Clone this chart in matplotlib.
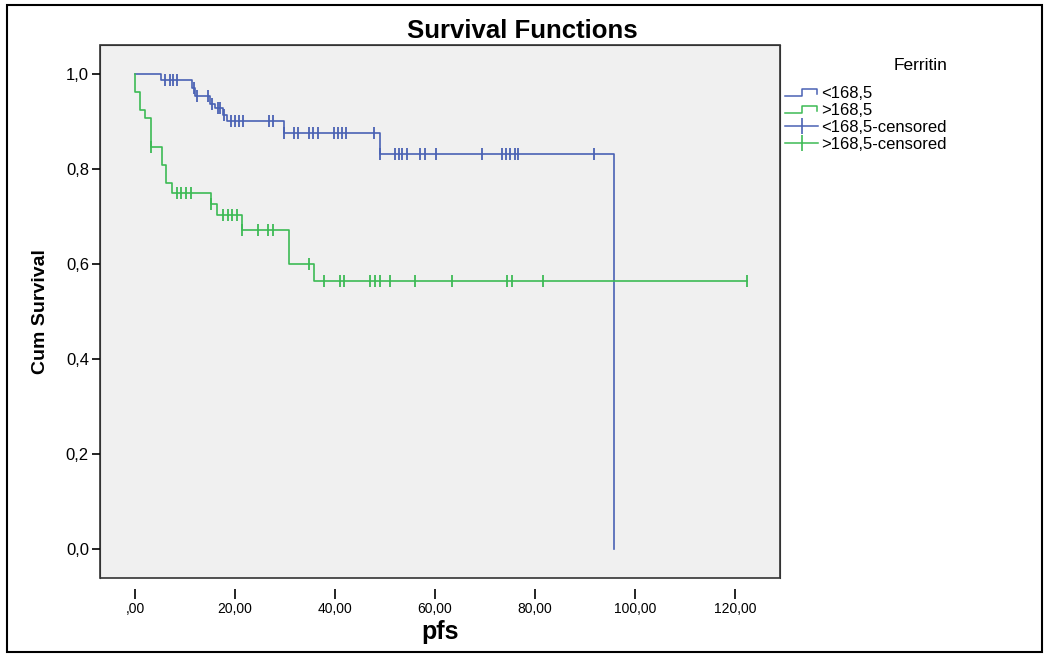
import numpy as np
import matplotlib.pyplot as plt
from matplotlib.lines import Line2D
from matplotlib.patches import Rectangle
from matplotlib.legend_handler import HandlerBase

plt.rcParams['font.family'] = ['Liberation Sans', 'DejaVu Sans']

# Kaplan-Meier steps (time, cum survival after the step)
blue_t = [0, 5.2, 11.3, 12.0, 15.0, 16.0, 17.5, 18.3, 29.7, 48.9, 95.8]
blue_s = [1.0, 0.987, 0.971, 0.954, 0.936, 0.928, 0.914, 0.900, 0.876, 0.831, 0.0]
blue_cens = [6.0, 6.9, 7.5, 8.3, 11.8, 12.3, 14.5, 15.3, 16.5, 17.0, 17.8, 19.2,
             20.0, 20.8, 21.6, 26.7, 27.5, 29.7, 31.7, 32.5, 34.7, 35.5, 36.5,
             39.7, 40.5, 41.3, 42.2, 47.7, 48.9, 52.0, 52.7, 53.3, 54.3, 57.0,
             58.0, 60.2, 69.3, 73.3, 74.2, 75.0, 75.9, 76.5, 91.7]

green_t = [0, 0, 1.0, 2.0, 3.2, 5.3, 6.2, 7.3, 15.2, 16.3, 21.3, 30.7, 35.7]
green_s = [1.0, 0.963, 0.924, 0.907, 0.847, 0.808, 0.770, 0.749, 0.726, 0.703,
           0.672, 0.601, 0.564]
green_cens = [3.2, 8.3, 9.1, 10.1, 11.1, 15.2, 17.5, 18.5, 19.4, 20.3, 21.3,
              24.5, 26.5, 27.5, 34.7, 37.7, 40.9, 41.8, 46.9, 48.0, 49.0, 51.0,
              56.0, 63.3, 74.4, 75.4, 81.6, 122.3]

labels = ['<168,5', '>168,5', '<168,5-censored', '>168,5-censored']
xticks = [0, 20, 40, 60, 80, 100, 120]
xtick_labels = [',00', '20,00', '40,00', '60,00', '80,00', '100,00', '120,00']
yticks = [0.0, 0.2, 0.4, 0.6, 0.8, 1.0]
ytick_labels = ['0,0', '0,2', '0,4', '0,6', '0,8', '1,0']

BLUE = '#4a62b4'
GREEN = '#3dba55'


def surv_at(times, surv, c):
    i = np.searchsorted(times, c, side='right') - 1
    return np.array(surv)[i]


class StepHandler(HandlerBase):
    def create_artists(self, legend, orig_handle, xdescent, ydescent,
                       width, height, fontsize, trans):
        x0, y0 = -xdescent, -ydescent
        xs = [x0, x0 + width * 0.5, x0 + width * 0.5, x0 + width * 0.95, x0 + width * 0.95]
        ys = [y0 + height * 0.15, y0 + height * 0.15, y0 + height * 0.8,
              y0 + height * 0.8, y0 + height * 0.35]
        ln = Line2D(xs, ys, color=orig_handle.get_color(), lw=1.1)
        ln.set_transform(trans)
        return [ln]


fig = plt.figure(figsize=(10.5, 6.57), dpi=100)
ax = fig.add_axes([100 / 1050, 1 - 578 / 657, 680 / 1050, 533 / 657])
ax.set_facecolor('#f0f0f0')

# blue group
ax.step(blue_t, blue_s, where='post', color=BLUE, lw=1.2)
ax.plot(blue_cens, surv_at(blue_t, blue_s, blue_cens), ls='none',
        marker='|', ms=8, mew=1.3, color=BLUE)

# green group, extended to the last censored case
gt = green_t + [green_cens[-1]]
gs = green_s + [green_s[-1]]
ax.step(gt, gs, where='post', color=GREEN, lw=1.2)
ax.plot(green_cens, surv_at(green_t, green_s, green_cens), ls='none',
        marker='|', ms=8, mew=1.3, color=GREEN)

ax.set_xlim(-7, 129)
ax.set_ylim(-0.061, 1.061)
ax.set_xticks(xticks)
ax.set_xticklabels(xtick_labels, fontsize=12)
ax.set_yticks(yticks)
ax.set_yticklabels(ytick_labels, fontsize=12)
ax.tick_params(axis='y', direction='out', length=6, width=1.2, pad=2)
ax.tick_params(axis='x', direction='out', length=7, width=1.2, pad=2)

ax.spines['bottom'].set_position(('outward', 8))
ax.spines['bottom'].set_visible(False)
for s in ['top', 'right', 'left']:
    ax.spines[s].set_color('#333333')
ax.add_patch(Rectangle((0, 0), 1, 1, transform=ax.transAxes, fill=False,
                       edgecolor='#333333', lw=1.2, clip_on=False))

ax.set_xlabel('pfs', fontsize=18, fontweight='bold', labelpad=3)
ax.set_ylabel('Cum Survival', fontsize=14, fontweight='bold', labelpad=12)
fig.text(0.497, 1 - 31 / 657, 'Survival Functions', fontsize=18.5,
         fontweight='bold', ha='center', va='center')

# legend
h1 = Line2D([], [], color=BLUE)
h2 = Line2D([], [], color=GREEN)
h3 = Line2D([], [], color=BLUE, marker='|', ms=12, mew=1.2, lw=1.1)
h4 = Line2D([], [], color=GREEN, marker='|', ms=12, mew=1.2, lw=1.1)
fig.legend([h1, h2, h3, h4], labels, loc='upper left',
           bbox_to_anchor=(785 / 1050, 1 - 86 / 657), frameon=False,
           fontsize=12, borderpad=0, borderaxespad=0, labelspacing=0.12,
           handlelength=2.0, handletextpad=0.15,
           handler_map={h1: StepHandler(), h2: StepHandler()})
fig.text(921 / 1050, 1 - 66 / 657, 'Ferritin', fontsize=12.5, ha='center', va='center')

# outer frame
fig.patches.append(Rectangle((7 / 1050, 1 - 652 / 657), 1035 / 1050, 647 / 657,
                             transform=fig.transFigure, fill=False,
                             edgecolor='black', lw=1.5))

fig.savefig('out.png', dpi=100)
